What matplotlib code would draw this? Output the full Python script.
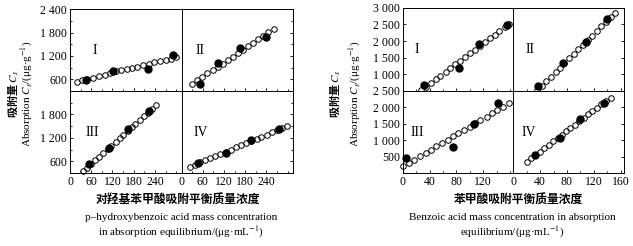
import matplotlib.pyplot as plt
from matplotlib.ticker import MultipleLocator, FixedLocator, FuncFormatter

plt.rcParams['font.family'] = ['Liberation Serif', 'Noto Sans CJK SC']
plt.rcParams['mathtext.fontset'] = 'stix'
plt.rcParams['font.size'] = 8.5

# p-hydroxybenzoic acid: open = model line, filled = measured
phb_I_ox = [19, 33, 49, 66, 83, 99, 113, 130, 143, 160, 174, 190, 207, 223, 237, 254, 270, 285, 300]
phb_I_oy = [541, 575, 600, 643, 684, 710, 753, 812, 837, 855, 880, 914, 956, 1000, 1041, 1066, 1109, 1135, 1178]
phb_I_fx = [44, 122, 220, 290]
phb_I_fy = [590, 820, 860, 1230]

phb_II_ox = [30, 45, 59, 73, 88, 102, 116, 131, 145, 159, 173, 188, 202, 216, 231, 245, 261]
phb_II_oy = [490, 575, 660, 750, 835, 920, 1005, 1100, 1185, 1280, 1365, 1450, 1540, 1625, 1720, 1815, 1905]
phb_II_fx = [51, 102, 166, 239]
phb_II_fy = [480, 1023, 1405, 1686]

phb_III_ox = [38, 49, 60, 72, 83, 94, 106, 117, 129, 140, 151, 163, 174, 185, 197, 208, 219, 231, 242]
phb_III_oy = [350, 440, 530, 625, 720, 815, 905, 1000, 1095, 1190, 1280, 1375, 1470, 1560, 1655, 1750, 1840, 1935, 2030]
phb_III_fx = [54, 110, 164, 223]
phb_III_fy = [525, 943, 1417, 1887]

phb_IV_ox = [23, 38, 52, 67, 81, 96, 110, 125, 139, 154, 168, 183, 197, 212, 226, 241, 255, 270, 284, 299]
phb_IV_oy = [460, 515, 570, 625, 680, 735, 790, 845, 900, 955, 1010, 1065, 1120, 1175, 1230, 1285, 1340, 1395, 1450, 1505]
phb_IV_fx = [47, 126, 197, 275]
phb_IV_fy = [568, 823, 1137, 1435]

# benzoic acid
ba_I_ox = [27, 34, 42, 49, 56, 64, 71, 78, 86, 93, 100, 108, 115, 122, 130, 137, 144, 152, 159]
ba_I_oy = [513, 625, 736, 848, 960, 1071, 1183, 1294, 1406, 1518, 1629, 1741, 1852, 1964, 2076, 2187, 2299, 2410, 2522]
ba_I_fx = [32, 84, 114, 155]
ba_I_fy = [687, 1173, 1913, 2492]

ba_II_ox = [35, 42, 49, 56, 63, 69, 76, 83, 90, 97, 104, 111, 118, 124, 131, 138, 145, 152]
ba_II_oy = [513, 650, 788, 925, 1063, 1200, 1337, 1475, 1612, 1750, 1887, 2024, 2162, 2299, 2437, 2574, 2711, 2848]
ba_II_fx = [37, 74, 108, 140]
ba_II_fy = [635, 1326, 1965, 2674]

ba_III_ox = [1, 9, 17, 26, 34, 42, 50, 59, 67, 75, 83, 92, 100, 108, 116, 125, 133, 141, 149, 158]
ba_III_oy = [211, 312, 412, 513, 613, 714, 815, 915, 1016, 1116, 1217, 1318, 1418, 1519, 1619, 1720, 1821, 1921, 2022, 2122]
ba_III_fx = [5, 75, 106, 142]
ba_III_fy = [462, 785, 1509, 2143]

ba_IV_ox = [20, 27, 33, 40, 46, 53, 59, 66, 72, 79, 85, 92, 98, 105, 111, 118, 125, 131, 138, 145]
ba_IV_oy = [350, 452, 555, 657, 760, 862, 964, 1067, 1169, 1271, 1374, 1476, 1579, 1681, 1783, 1886, 1988, 2091, 2193, 2295]
ba_IV_fx = [32, 70, 100, 135]
ba_IV_fy = [561, 1056, 1639, 2143]

fig = plt.figure(figsize=(6.33, 2.46), dpi=100)

fmt = FuncFormatter(lambda v, p: f"{v:,.0f}".replace(",", " "))


def quad(rect, ox, oy, fx, fy, label, lx, xlim, ylim, xmaj, xmin, ymaj, ymin,
         col, row):
    ax = fig.add_axes(rect)
    ax.plot(fx, fy, 'o', color='black', ms=5, clip_on=False, zorder=3)
    ax.plot(ox, oy, 'o', mfc='none', mec='black', ms=4, mew=0.7,
            clip_on=False, zorder=4)
    ax.set_xlim(xlim)
    ax.set_ylim(ylim)
    ax.xaxis.set_major_locator(FixedLocator(xmaj))
    ax.xaxis.set_minor_locator(MultipleLocator(xmin))
    ax.yaxis.set_major_locator(FixedLocator(ymaj))
    if ymin:
        ax.yaxis.set_minor_locator(MultipleLocator(ymin))
    ax.yaxis.set_major_formatter(fmt)
    ax.tick_params(which='both', direction='in', width=0.6, pad=2,
                   labelsize=8.5, top=False)
    ax.tick_params(which='major', length=2.5)
    ax.tick_params(which='minor', length=1.5)
    if col == 0:
        ax.tick_params(which='both', left=True, right=False)
    else:
        ax.tick_params(which='both', left=False, right=True, labelleft=False)
    if row == 0:
        ax.tick_params(labelbottom=False)
    for s in ax.spines.values():
        s.set_linewidth(0.7)
    ax.text(lx, 0.5, label, transform=ax.transAxes, fontsize=10,
            ha='center', va='center', family='Liberation Serif')
    return ax


# left chart
L0, W0 = 70 / 633, 111.5 / 633
b_top, h_top = 1 - 91 / 246, 81.7 / 246
b_bot, h_bot = 1 - 173 / 246, 82 / 246
xl = (0, 315)
yl = (300, 2400)
quad([L0, b_top, W0, h_top], phb_I_ox, phb_I_oy, phb_I_fx, phb_I_fy, 'I', 0.22,
     xl, yl, [0, 60, 120, 180, 240], 30, [600, 1200, 1800, 2400], 300, 0, 0)
quad([L0 + W0, b_top, W0, h_top], phb_II_ox, phb_II_oy, phb_II_fx, phb_II_fy, 'II', 0.17,
     xl, yl, [0, 60, 120, 180, 240], 30, [600, 1200, 1800, 2400], 300, 1, 0)
quad([L0, b_bot, W0, h_bot], phb_III_ox, phb_III_oy, phb_III_fx, phb_III_fy, 'III', 0.2,
     xl, yl, [0, 60, 120, 180, 240], 30, [600, 1200, 1800], 300, 0, 1)
quad([L0 + W0, b_bot, W0, h_bot], phb_IV_ox, phb_IV_oy, phb_IV_fx, phb_IV_fy, 'IV', 0.17,
     xl, yl, [0, 60, 120, 180, 240], 30, [600, 1200, 1800], 300, 1, 1)

# right chart
L1, W1 = 402.7 / 633, 110.65 / 633
b_top2, h_top2 = 1 - 90.8 / 246, 83 / 246
b_bot2, h_bot2 = 1 - 173.3 / 246, 82.5 / 246
xl2 = (0, 165)
quad([L1, b_top2, W1, h_top2], ba_I_ox, ba_I_oy, ba_I_fx, ba_I_fy, 'I', 0.13,
     xl2, (500, 3000), [0, 40, 80, 120], 20, [1000, 1500, 2000, 2500, 3000], None, 0, 0)
quad([L1 + W1, b_top2, W1, h_top2], ba_II_ox, ba_II_oy, ba_II_fx, ba_II_fy, 'II', 0.15,
     xl2, (500, 3000), [0, 40, 80, 120, 160], 20, [1000, 1500, 2000, 2500, 3000], None, 1, 0)
quad([L1, b_bot2, W1, h_bot2], ba_III_ox, ba_III_oy, ba_III_fx, ba_III_fy, 'III', 0.13,
     xl2, (0, 2500), [0, 40, 80, 120], 20, [500, 1000, 1500, 2000, 2500], None, 0, 1)
quad([L1 + W1, b_bot2, W1, h_bot2], ba_IV_ox, ba_IV_oy, ba_IV_fx, ba_IV_fy, 'IV', 0.14,
     xl2, (0, 2500), [0, 40, 80, 120, 160], 20, [500, 1000, 1500, 2000, 2500], None, 1, 1)

# y labels
cjk = ['Noto Sans CJK SC', 'Liberation Serif']
for x0, x1 in [(12, 27), (335, 355)]:
    fig.text(x0 / 633, 0.62, '吸附量 $C_s$', rotation=90, ha='center', va='center',
             family=cjk, fontweight='bold', fontsize=8)
    fig.text(x1 / 633, 0.62, 'Absorption $C_s$/(μg·g$^{-1}$)', rotation=90,
             ha='center', va='center', fontsize=8)

# x labels
fig.text(178 / 633, 1 - 200 / 246, '对羟基苯甲酸吸附平衡质量浓度', ha='center', va='center',
         family=cjk, fontweight='bold', fontsize=8.5)
fig.text(181 / 633, 1 - 217.5 / 246, 'p–hydroxybenzoic acid mass concentration',
         ha='center', va='center', fontsize=8)
fig.text(181 / 633, 1 - 232 / 246, 'in absorption equilibrium/(μg·mL$^{-1}$)',
         ha='center', va='center', fontsize=8)

fig.text(518 / 633, 1 - 200 / 246, '苯甲酸吸附平衡质量浓度', ha='center', va='center',
         family=cjk, fontweight='bold', fontsize=8.5)
fig.text(512.5 / 633, 1 - 217 / 246, 'Benzoic acid mass concentration in absorption',
         ha='center', va='center', fontsize=8)
fig.text(512 / 633, 1 - 232 / 246, 'equilibrium/(μg·mL$^{-1}$)',
         ha='center', va='center', fontsize=8)

fig.savefig('out.png', dpi=100)
